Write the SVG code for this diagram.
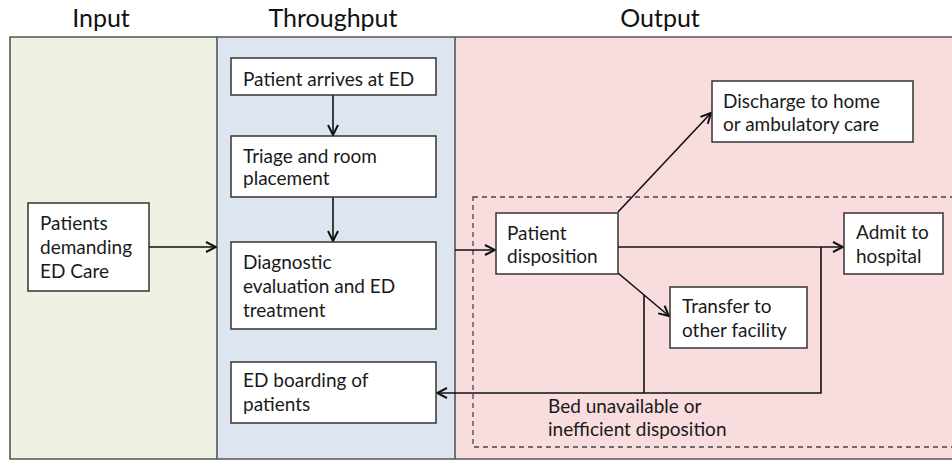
<svg xmlns="http://www.w3.org/2000/svg" width="952" height="461" viewBox="0 0 952 461">
<defs>
<style>
.hd{font-family:Lato,"Open Sans","Liberation Sans",sans-serif;font-size:25px;fill:#111;text-anchor:middle}
.t{font-family:Lato,"Open Sans","Liberation Sans",sans-serif;font-size:19px;fill:#1a1a1a}
.box{fill:#fff;stroke:#333;stroke-width:1.5}
.ln{fill:none;stroke:#111;stroke-width:1.6}
</style>
<marker id="ah" viewBox="0 0 12 12" refX="11" refY="6" markerWidth="12" markerHeight="12" markerUnits="userSpaceOnUse" orient="auto">
<path d="M1,1 L11,6 L1,11" fill="none" stroke="#111" stroke-width="2"/>
</marker>
</defs>
<rect width="952" height="461" fill="#fff"/>
<g id="columns">
<rect x="10" y="37" width="207" height="422" fill="#edf2e3"/>
<rect x="217" y="37" width="238" height="422" fill="#dce5f0"/>
<rect x="455" y="37" width="500" height="422" fill="#f9dcdd"/>
<path d="M955,37 H10 V459 H955 M217,37 V459 M455,37 V459" fill="none" stroke="#555" stroke-width="1.6"/>
<text class="hd" x="101" y="27">Input</text>
<text class="hd" x="333" y="27">Throughput</text>
<text class="hd" x="660" y="27">Output</text>
</g>
<rect id="dashed" x="473" y="197" width="490" height="250" fill="none" stroke="#444" stroke-width="1.3" stroke-dasharray="5,4"/>
<g id="connectors">
<path class="ln" d="M149,247 H216" marker-end="url(#ah)"/>
<path class="ln" d="M333,95 V135" marker-end="url(#ah)"/>
<path class="ln" d="M333,197 V241" marker-end="url(#ah)"/>
<path class="ln" d="M455,250 H495" marker-end="url(#ah)"/>
<path class="ln" d="M618,212 L711,113" marker-end="url(#ah)"/>
<path class="ln" d="M618,247 H843" marker-end="url(#ah)"/>
<path class="ln" d="M618,273 L669,316" marker-end="url(#ah)"/>
<path class="ln" d="M821,247 V393 H437" marker-end="url(#ah)"/>
<path class="ln" d="M644,295 V393"/>
</g>
<g id="n-patients">
<rect class="box" x="28" y="203" width="121" height="88"/>
<text class="t" x="40" y="230">Patients</text>
<text class="t" x="40" y="254">demanding</text>
<text class="t" x="40" y="278">ED Care</text>
</g>
<g id="n-arrives">
<rect class="box" x="231" y="58" width="205" height="37"/>
<text class="t" x="243" y="86">Patient arrives at ED</text>
</g>
<g id="n-triage">
<rect class="box" x="231" y="136" width="205" height="61"/>
<text class="t" x="243" y="163">Triage and room</text>
<text class="t" x="243" y="185">placement</text>
</g>
<g id="n-diag">
<rect class="box" x="231" y="242" width="205" height="87"/>
<text class="t" x="243" y="269">Diagnostic</text>
<text class="t" x="243" y="293">evaluation and ED</text>
<text class="t" x="243" y="317">treatment</text>
</g>
<g id="n-boarding">
<rect class="box" x="231" y="362" width="205" height="61"/>
<text class="t" x="243" y="387">ED boarding of</text>
<text class="t" x="243" y="411">patients</text>
</g>
<g id="n-discharge">
<rect class="box" x="712" y="81" width="201" height="61"/>
<text class="t" x="723" y="108">Discharge to home</text>
<text class="t" x="723" y="131">or ambulatory care</text>
</g>
<g id="n-disposition">
<rect class="box" x="496" y="213" width="122" height="61"/>
<text class="t" x="507" y="240">Patient</text>
<text class="t" x="507" y="263">disposition</text>
</g>
<g id="n-admit">
<rect class="box" x="844" y="213" width="99" height="61"/>
<text class="t" x="856" y="239">Admit to</text>
<text class="t" x="856" y="263">hospital</text>
</g>
<g id="n-transfer">
<rect class="box" x="670" y="287" width="137" height="61"/>
<text class="t" x="682" y="313">Transfer to</text>
<text class="t" x="682" y="337">other facility</text>
</g>
<g id="label-bed">
<text class="t" x="548" y="413">Bed unavailable or</text>
<text class="t" x="548" y="436">inefficient disposition</text>
</g>
</svg>
